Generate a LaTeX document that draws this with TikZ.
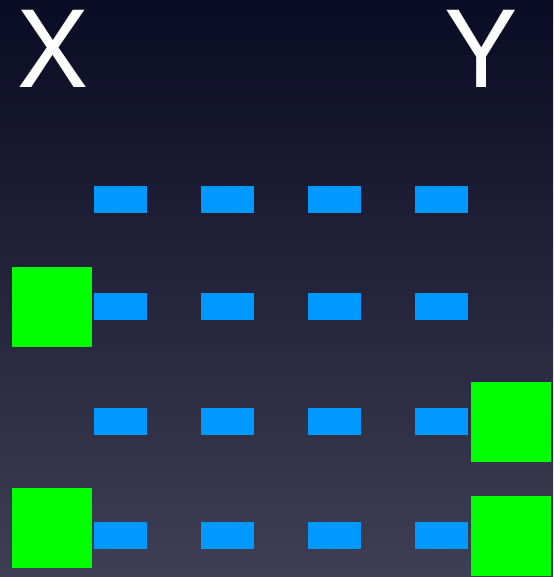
\documentclass[tikz,border=0pt]{standalone}
\usepackage{fontspec}
\setsansfont{TeX Gyre Heros}
\definecolor{bgtop}{RGB}{10,11,36}
\definecolor{bgbot}{RGB}{62,62,84}
\definecolor{barblue}{RGB}{0,153,255}
\definecolor{boxgreen}{RGB}{0,255,0}
\begin{document}
\begin{tikzpicture}[x=1pt, y=-1pt,
  bar/.style={fill=barblue, inner sep=0pt, minimum width=53pt, minimum height=27pt},
  gbox/.style={fill=boxgreen, inner sep=0pt, minimum size=80pt},
  letter/.style={anchor=base, inner sep=0pt, text=white, font=\sffamily\fontsize{106}{106}\selectfont}]

  %% ════ 背景（上深下浅）════
  \shade[top color=bgtop, bottom color=bgbot] (0,0) rectangle (553,577);

  %% ════ 标签 ════
  \node[letter] (labX) at (52.5,88) {X};
  \node[letter] (labY) at (480.5,88) {Y};

  %% ════ 蓝条：4 行 × 4 列 ════
  \foreach \r/\yy in {1/199.5, 2/306.5, 3/421.5, 4/535.5} {
    \foreach \c/\xx in {1/120.5, 2/227.5, 3/334.5, 4/441} {
      \node[bar] (bar\r\c) at (\xx,\yy) {};
    }
  }

  %% ════ 绿块 ════
  \node[gbox] (inA) at (51.5,307) {};
  \node[gbox] (inB) at (51.5,528) {};
  \node[gbox] (outA) at (510.5,422) {};
  \node[gbox] (outB) at (510.5,536) {};

  % 钉死画布
  \pgfresetboundingbox
  \path[use as bounding box] (0,0) rectangle (553,577);
\end{tikzpicture}
\end{document}
